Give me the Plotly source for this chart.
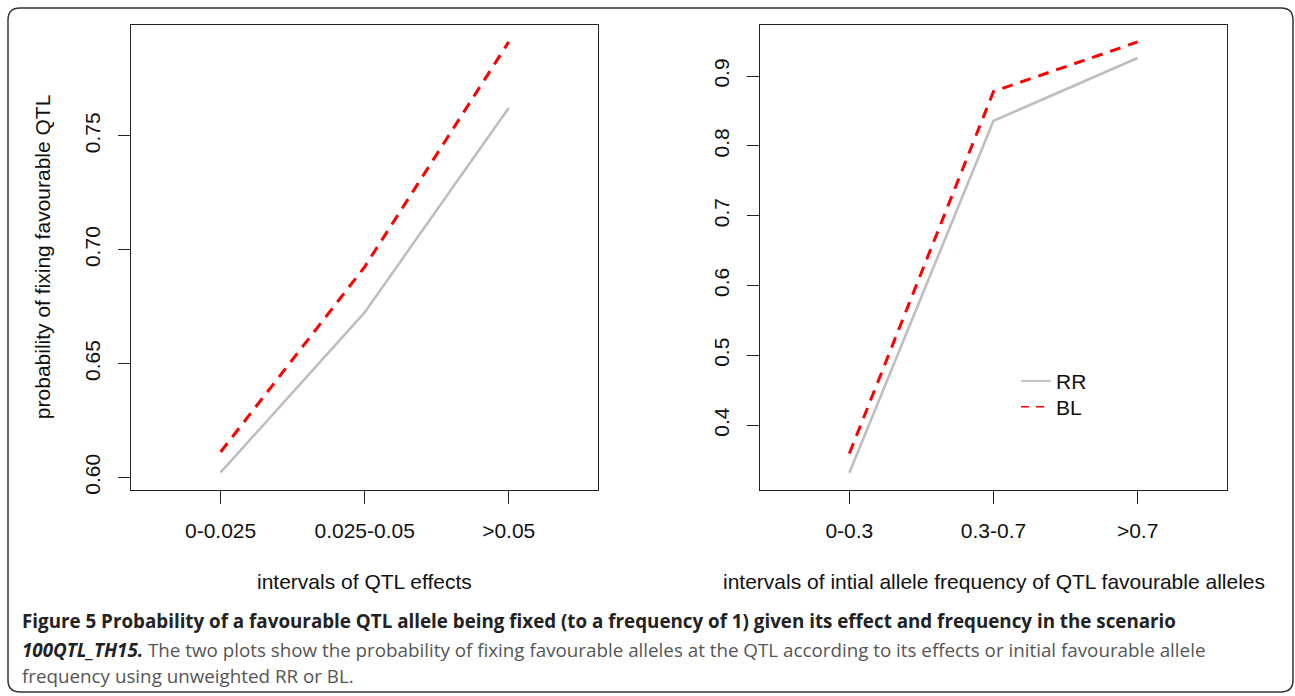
import plotly.graph_objects as go

# ---------------- data ----------------
effect_cats = ["0-0.025", "0.025-0.05", ">0.05"]
effect_rr = [0.6022, 0.6725, 0.7623]
effect_bl = [0.6112, 0.6925, 0.7913]
effect_yticks = [0.60, 0.65, 0.70, 0.75]
effect_yticklabels = ["0.60", "0.65", "0.70", "0.75"]

freq_cats = ["0-0.3", "0.3-0.7", ">0.7"]
freq_rr = [0.3318, 0.836, 0.926]
freq_bl = [0.3594, 0.878, 0.949]
freq_yticks = [0.4, 0.5, 0.6, 0.7, 0.8, 0.9]
freq_yticklabels = ["0.4", "0.5", "0.6", "0.7", "0.8", "0.9"]

series_names = ["RR", "BL"]
x_positions = [1, 2, 3]

FW, FH = 1295, 696
def px(x):
    return x / FW
def py(y):
    return 1 - y / FH

FONT = "Liberation Sans, Arial, Helvetica, sans-serif"
CAP_FONT = "Open Sans, Noto Sans, sans-serif"
FS = 21

fig = go.Figure()

rr_style = dict(color="#bebebe", width=2.6)
bl_style = dict(color="#ff0000", width=3, dash="11px,8px")

# left panel
fig.add_trace(go.Scatter(x=x_positions, y=effect_rr, mode="lines", name=series_names[0],
                         line=rr_style, xaxis="x", yaxis="y", showlegend=False))
fig.add_trace(go.Scatter(x=x_positions, y=effect_bl, mode="lines", name=series_names[1],
                         line=bl_style, xaxis="x", yaxis="y", showlegend=False))
# right panel
fig.add_trace(go.Scatter(x=x_positions, y=freq_rr, mode="lines", name=series_names[0],
                         line=rr_style, xaxis="x2", yaxis="y2", showlegend=False))
fig.add_trace(go.Scatter(x=x_positions, y=freq_bl, mode="lines", name=series_names[1],
                         line=bl_style, xaxis="x2", yaxis="y2", showlegend=False))
# legend entries (thin lines, as in the R legend)
fig.add_trace(go.Scatter(x=[None], y=[None], mode="lines", name=series_names[0],
                         line=dict(color="#bebebe", width=1.6), xaxis="x2", yaxis="y2",
                         showlegend=True, legend="legend"))
fig.add_trace(go.Scatter(x=[None], y=[None], mode="lines", name=series_names[1],
                         line=dict(color="#ff0000", width=1.6, dash="8px,7px"), xaxis="x2", yaxis="y2",
                         showlegend=True, legend="legend2"))

ydom = [py(493.3), py(25)]
common_x = dict(range=[0.38, 3.62], tickmode="array", tickvals=x_positions,
                ticks="outside", ticklen=13, tickwidth=1.2, tickcolor="#222",
                showline=True, linecolor="#222", linewidth=1.2, mirror=True,
                showgrid=False, zeroline=False, ticklabelstandoff=9,
                tickfont=dict(family=FONT, size=FS, color="#111"), fixedrange=True)
common_y = dict(tickmode="array", ticks="outside", ticklen=12, tickwidth=1.2,
                tickcolor="#222", showline=True, linecolor="#222", linewidth=1.2,
                mirror=True, showgrid=False, zeroline=False, tickangle=-90,
                ticklabelstandoff=10,
                tickfont=dict(family=FONT, size=FS, color="#111"), fixedrange=True)

leg_common = dict(xanchor="left", yanchor="middle", bgcolor="rgba(0,0,0,0)", borderwidth=0,
                  font=dict(family=FONT, size=FS, color="#111"), itemwidth=30)

fig.update_layout(
    width=FW, height=FH,
    margin=dict(l=0, r=0, t=0, b=0),
    paper_bgcolor="white", plot_bgcolor="white",
    xaxis=dict(domain=[px(131.3), px(598)], ticktext=effect_cats, anchor="y", **common_x),
    yaxis=dict(domain=ydom, range=[0.5946, 0.7988], tickvals=effect_yticks,
               ticktext=effect_yticklabels, anchor="x", **common_y),
    xaxis2=dict(domain=[px(760), px(1227)], ticktext=freq_cats, anchor="y2", **common_x),
    yaxis2=dict(domain=ydom, range=[0.3075, 0.9735], tickvals=freq_yticks,
                ticktext=freq_yticklabels, anchor="x2", **common_y),
    legend=dict(x=px(1016), y=py(384), **leg_common),
    legend2=dict(x=px(1016), y=py(410), **leg_common),
    showlegend=True,
)

annots = [
    dict(text="probability of fixing favourable QTL", x=px(42), y=py(259), textangle=-90,
         font=dict(family=FONT, size=FS, color="#111")),
    dict(text="intervals of QTL effects", x=px(364.6), y=py(586),
         font=dict(family=FONT, size=FS, color="#111")),
    dict(text="intervals of intial allele frequency of QTL favourable alleles", x=px(993.5), y=py(586),
         font=dict(family=FONT, size=FS, color="#111")),
]
for a in annots:
    a.update(xref="paper", yref="paper", showarrow=False, xanchor="center", yanchor="middle")
    fig.add_annotation(**a)

cap_lines = [
    "<b>Figure 5 Probability of a favourable QTL allele being fixed (to a frequency of 1) given its effect and frequency in the scenario</b>",
    "<b><i>100QTL_TH15.</i></b><span style='color:#555555'> The two plots show the probability of fixing favourable alleles at the QTL according to its effects or initial favourable allele</span>",
    "<span style='color:#555555'>frequency using unweighted RR or BL.</span>",
]
cap_y = [625, 655, 681]
for t, yy in zip(cap_lines, cap_y):
    fig.add_annotation(text=t, x=px(20), y=py(yy), xref="paper", yref="paper",
                       showarrow=False, xanchor="left", yanchor="middle",
                       font=dict(family=CAP_FONT, size=18.8, color="#222"))

# outer rounded frame (bottom edge sits right at the window edge)
x0, x1, y0, y1, r = 8, 1293, 8, 697, 12
path = (f"M {px(x0+r)},{py(y0)} L {px(x1-r)},{py(y0)} Q {px(x1)},{py(y0)} {px(x1)},{py(y0+r)} "
        f"L {px(x1)},{py(y1-r)} Q {px(x1)},{py(y1)} {px(x1-r)},{py(y1)} "
        f"L {px(x0+r)},{py(y1)} Q {px(x0)},{py(y1)} {px(x0)},{py(y1-r)} "
        f"L {px(x0)},{py(y0+r)} Q {px(x0)},{py(y0)} {px(x0+r)},{py(y0)} Z")
fig.add_shape(type="path", path=path, xref="paper", yref="paper",
              line=dict(color="#333", width=1.5), fillcolor="rgba(0,0,0,0)", layer="below")

# remove the default 8px body margin so the figure fills the window exactly
fig.write_html("out.html", config={"displayModeBar": False},
               post_script="document.body.style.margin='0';document.body.style.overflow='hidden';")
